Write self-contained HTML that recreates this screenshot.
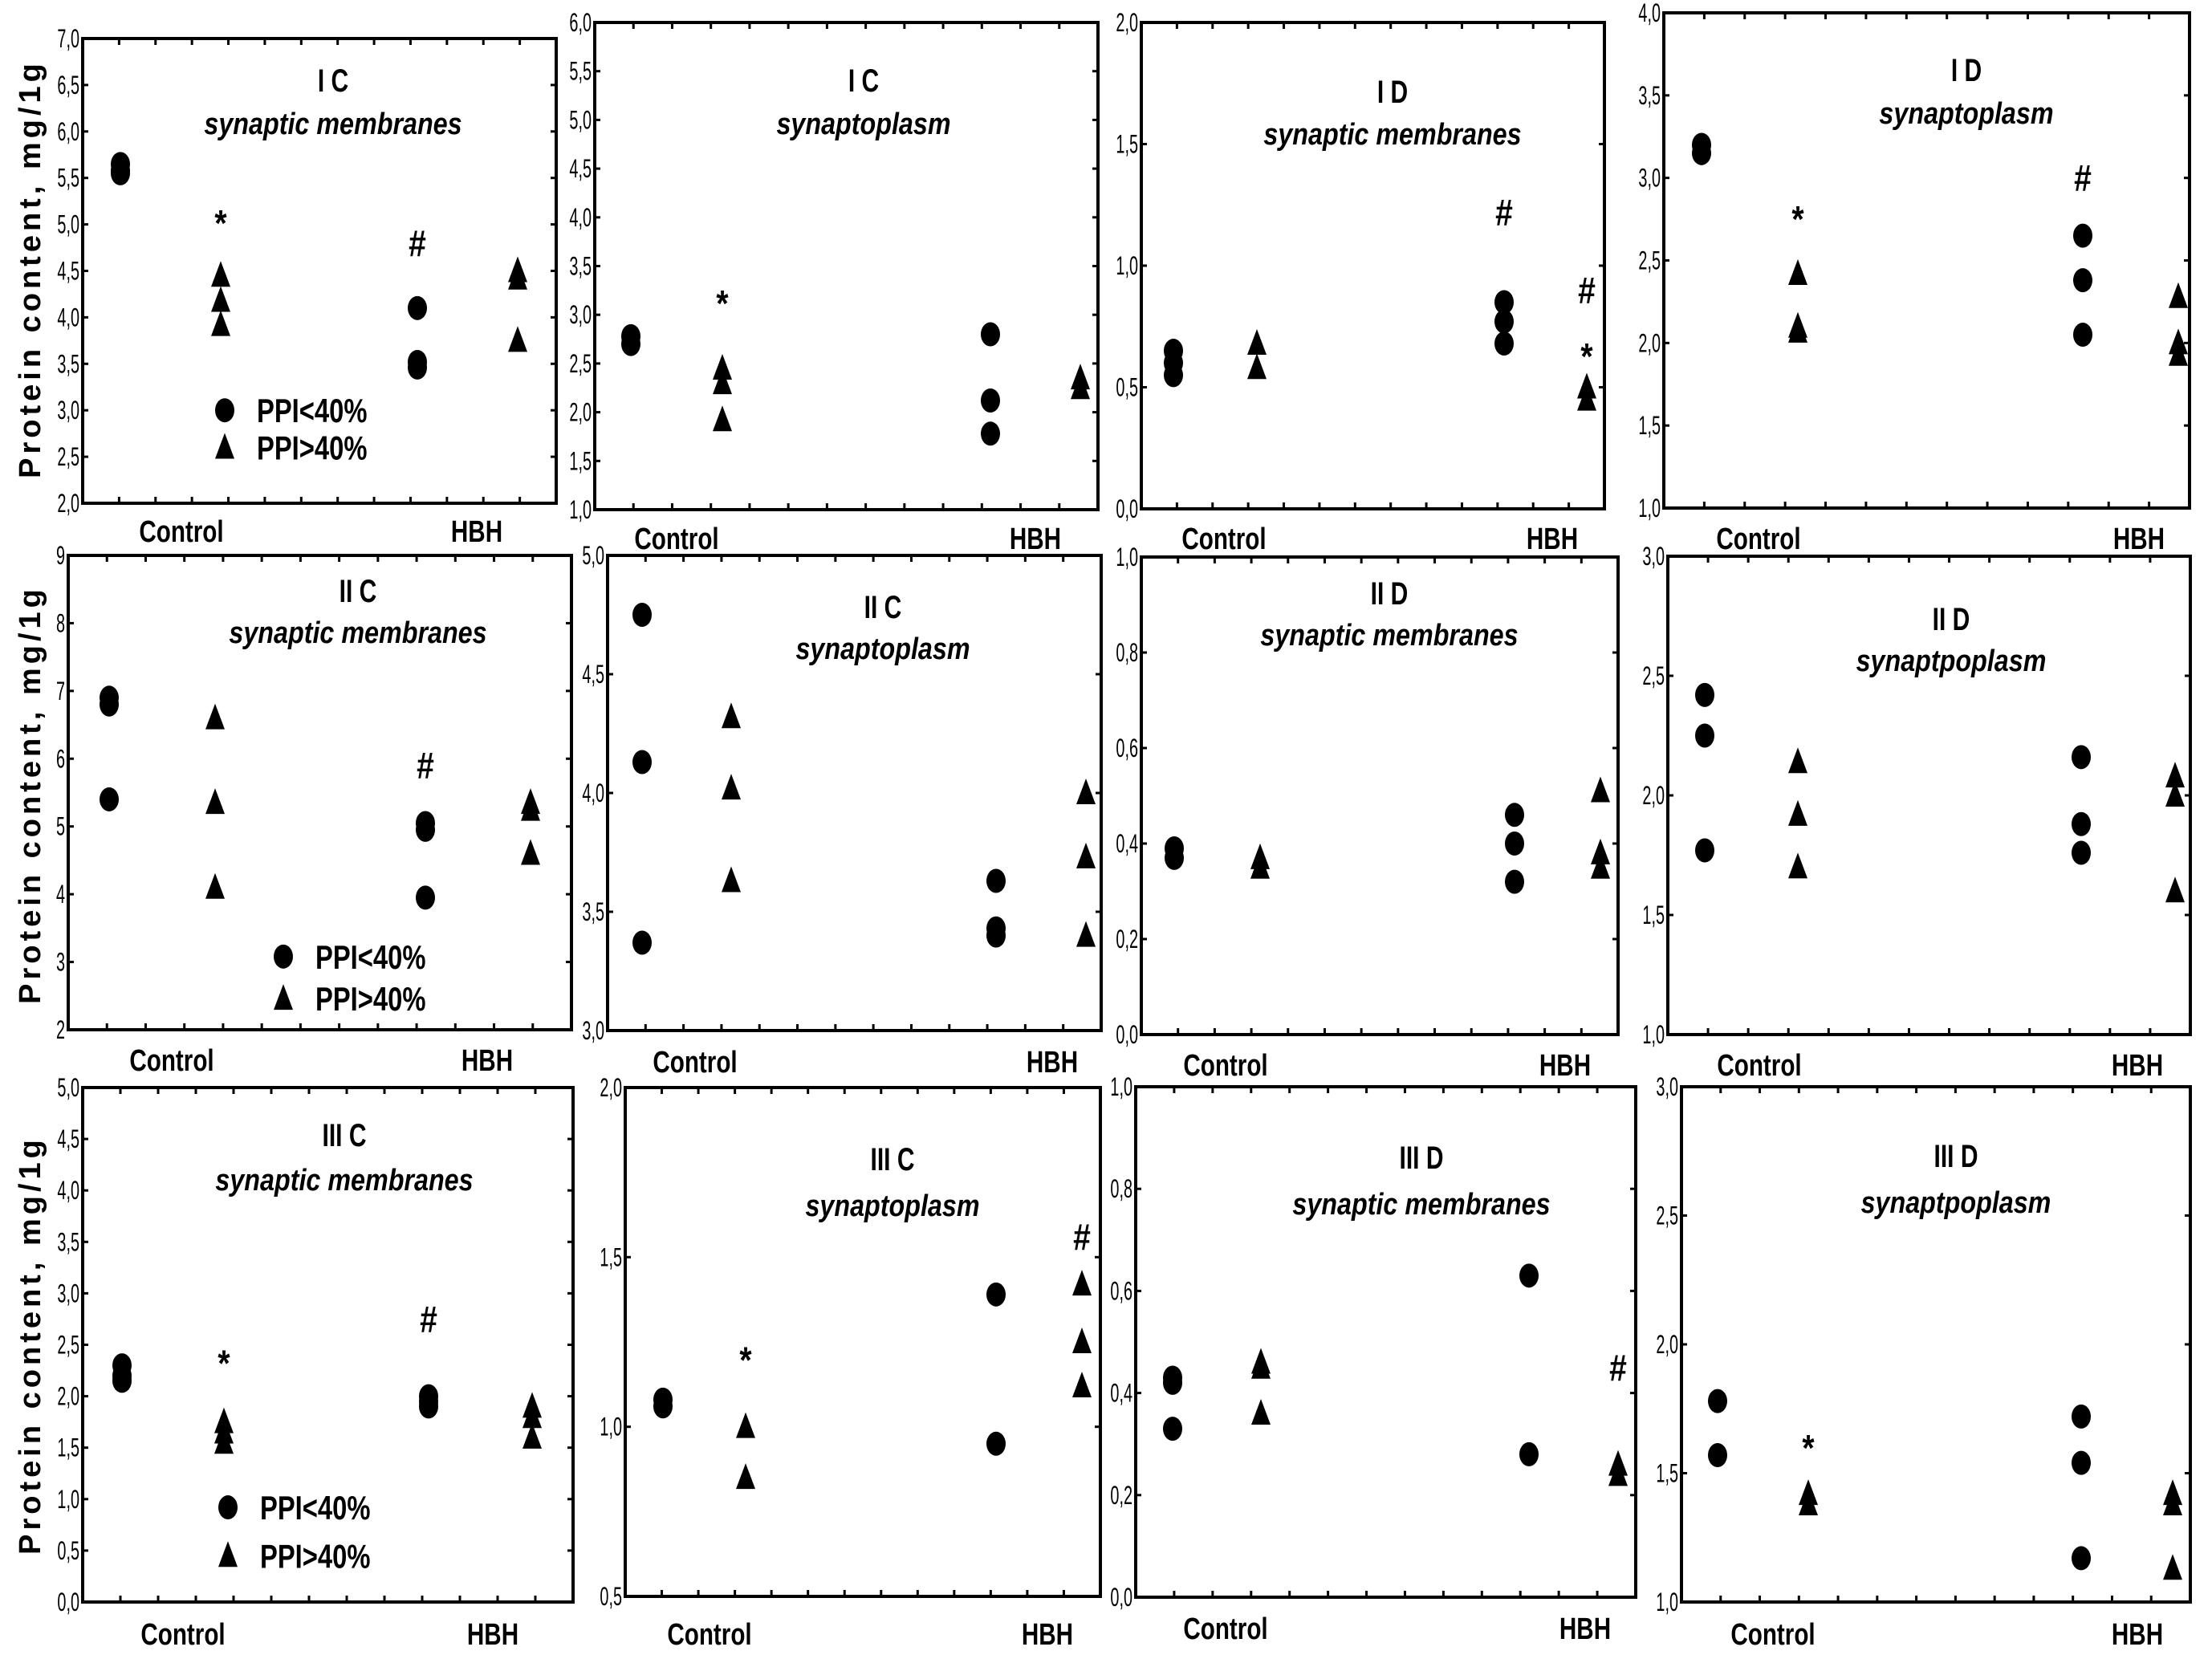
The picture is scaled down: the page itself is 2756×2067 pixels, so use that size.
<!DOCTYPE html>
<html><head><meta charset="utf-8">
<style>
html,body{margin:0;padding:0;background:#fff;}
svg{display:block;}
text{font-family:"Liberation Sans Narrow","Liberation Sans",sans-serif;fill:#000;}
</style></head>
<body>
<svg id="fig" width="2756" height="2067" viewBox="0 0 2756 2067" xmlns="http://www.w3.org/2000/svg"></svg>
<script>
// ---- data ----
const panelTitles = ["I C","I C","I D","I D","II C","II C","II D","II D","III C","III C","III D","III D"];
const panelSubtitles = ["synaptic membranes","synaptoplasm","synaptic membranes","synaptoplasm","synaptic membranes","synaptoplasm","synaptic membranes","synaptpoplasm","synaptic membranes","synaptoplasm","synaptic membranes","synaptpoplasm"];
const yMins = [2,1,0,1,2,3,0,1,0,0.5,0,1];
const yMaxs = [7,6,2,4,9,5,1,3,5,2,1,3];
const ySteps = [0.5,0.5,0.5,0.5,1,0.5,0.2,0.5,0.5,0.5,0.2,0.5];
const yDecimals = [1,1,1,1,0,1,1,1,1,1,1,1];
const categories = ["Control","HBH"];
const ctrlLow = [[5.65,5.58,5.55],[2.78,2.7],[0.65,0.6,0.55],[3.2,3.15],[6.9,6.8,5.4],[4.75,4.13,3.37],[0.39,0.37],[2.42,2.25,1.77],[2.3,2.2,2.15],[1.08,1.06],[0.43,0.42,0.33],[1.78,1.57]];
const ctrlHigh = [[4.45,4.18,3.92],[2.45,2.3,1.92],[0.68,0.58],[2.42,2.1,2.07],[6.6,5.35,4.1],[4.32,4.02,3.63],[0.37,0.35],[2.14,1.92,1.7],[1.75,1.65,1.55],[1.0,0.85],[0.46,0.45,0.36],[1.42,1.38]];
const hbhLow = [[4.1,3.52,3.46],[2.8,2.12,1.78],[0.85,0.77,0.68],[2.65,2.38,2.05],[5.05,4.95,3.95],[3.63,3.43,3.4],[0.46,0.40,0.32],[2.16,1.88,1.76],[2.0,1.95,1.9],[1.39,0.95],[0.63,0.28],[1.72,1.54,1.17]];
const hbhHigh = [[4.5,4.42,3.75],[2.35,2.25],[0.5,0.45],[2.28,2.0,1.93],[5.35,5.25,4.6],[4.0,3.73,3.4],[0.51,0.38,0.35],[2.08,2.0,1.6],[1.9,1.8,1.6],[1.42,1.25,1.12],[0.26,0.24],[1.42,1.38,1.13]];
// annotations: [panel, group(0..3), symbol, value]
const annotations = [[0,1,"*",5.1],[0,2,"#",4.8],[1,1,"*",3.2],[2,2,"#",1.22],[2,3,"#",0.9],[2,3,"*",0.66],[3,1,"*",2.8],[3,2,"#",3.0],[4,2,"#",5.9],[8,1,"*",2.4],[8,2,"#",2.75],[9,1,"*",1.22],[9,3,"#",1.56],[10,3,"#",0.45],[11,1,"*",1.63]];
const legendNames = ["PPI<40%","PPI>40%"];
const legendValues = [[0,3.0,2.6],[4,3.08,2.46],[8,0.92,0.45]];

// ---- layout (pixels) ----
const boxes = [[103,48,693,627],[741,28,1368,635],[1422,28,1999,634],[2073,16,2728,633],
 [85,692,712,1283],[757,692,1372,1284],[1422,694,2016,1289],[2078,693,2729,1289],
 [103,1355,714,1996],[779,1355,1371,1989],[1415,1354,2038,1990],[2095,1354,2729,1996]];
const groupX = [[150,275,520,645],[786,900,1234,1346],[1462,1566,1874,1977],[2120,2240,2595,2714],
 [136,268,530,661],[800,911,1241,1353],[1463,1570,1887,1994],[2124,2240,2593,2710],
 [152,279,534,663],[826,929,1241,1348],[1461,1571,1905,2016],[2140,2253,2593,2707]];
const titlePos = [[415,100,154],[1076,100,154],[1735,114,167],[2450,87,141],
 [446,736,788],[1100,756,808],[1731,739,791],[2431,771,823],
 [429,1414,1470],[1112,1444,1502],[1771,1442,1500],[2437,1440,1498]];
const catLabelPos = [[226,594,661],[843,1290,670],[1525,1934,670],[2191,2665,670],
 [214,607,1320],[866,1311,1322],[1527,1950,1326],[2192,2663,1326],
 [228,614,2035],[884,1305,2035],[1527,1975,2028],[2209,2663,2035]];

const NS="http://www.w3.org/2000/svg";
const svg=document.getElementById('fig');
function mk(tag,attrs,parent){const e=document.createElementNS(NS,tag);for(const k in attrs)e.setAttribute(k,attrs[k]);(parent||svg).appendChild(e);return e;}
function sq(x,s){return `translate(${x} 0) scale(${s} 1) translate(${-x} 0)`;}

function yScale(p,v){const b=boxes[p];return b[3]-(v-yMins[p])/(yMaxs[p]-yMins[p])*(b[3]-b[1]);}
function fmt(p,v){return v.toFixed(yDecimals[p]).replace('.',',');}

function circle(g,x,y){
  const c=mk('ellipse',{cx:x,cy:y,rx:12,ry:15,fill:'#000'},g);
  
  
}
function tri(g,x,y){
  const t=mk('path',{d:`M${x} ${y-18} L${x+12} ${y+14} L${x-12} ${y+14} Z`,fill:'#000'},g);
  
  
}

for(let p=0;p<12;p++){
  const g=mk('g',{});
  
  
  const b=boxes[p];
  const r=mk('rect',{x:b[0],y:b[1],width:b[2]-b[0],height:b[3]-b[1],fill:'none',stroke:'#000','stroke-width':4},g);
  
  
  const nT=13;
  for(let i=1;i<nT;i++){
    const x=b[0]+(b[2]-b[0])*i/nT;
    mk('line',{x1:x,y1:b[1],x2:x,y2:b[1]+8,stroke:'#000','stroke-width':3},g);
    mk('line',{x1:x,y1:b[3],x2:x,y2:b[3]-8,stroke:'#000','stroke-width':3},g);
  }
  const n=Math.round((yMaxs[p]-yMins[p])/ySteps[p]);
  for(let i=0;i<=n;i++){
    const v=yMins[p]+i*ySteps[p];const y=yScale(p,v);
    mk('line',{x1:b[0],y1:y,x2:b[0]+7,y2:y,stroke:'#000','stroke-width':3},g);
    mk('line',{x1:b[2],y1:y,x2:b[2]-7,y2:y,stroke:'#000','stroke-width':3},g);
    const t=mk('text',{x:b[0]-4,y:y+11,'text-anchor':'end','font-size':32,transform:sq(b[0]-4,0.62)},g);
    t.textContent=fmt(p,v);
    
    
  }
  const tp=titlePos[p];
  const t1=mk('text',{x:tp[0],y:tp[1]+14,'text-anchor':'middle','font-size':40,'font-weight':'bold',transform:sq(tp[0],0.75)},g);
  t1.textContent=panelTitles[p];
  
  
  const t2=mk('text',{x:tp[0],y:tp[2]+13,'text-anchor':'middle','font-size':38,'font-weight':'bold','font-style':'italic',transform:sq(tp[0],0.85)},g);
  t2.textContent=panelSubtitles[p];
  
  
  const cp=catLabelPos[p];
  for(let c=0;c<2;c++){
    const t=mk('text',{x:cp[c],y:cp[2]+14,'text-anchor':'middle','font-size':38,'font-weight':'bold',transform:sq(cp[c],0.78)},g);
    t.textContent=categories[c];
    
    
  }
  const gx=groupX[p];
  ctrlLow[p].forEach(v=>circle(g,gx[0],yScale(p,v)));
  ctrlHigh[p].forEach(v=>tri(g,gx[1],yScale(p,v)));
  hbhLow[p].forEach(v=>circle(g,gx[2],yScale(p,v)));
  hbhHigh[p].forEach(v=>tri(g,gx[3],yScale(p,v)));
}
annotations.forEach(a=>{
  const p=a[0];
  const x=groupX[p][a[1]];
  const t=mk('text',{x:x,y:yScale(p,a[3])+(a[2]==='*'?26:16),'text-anchor':'middle','font-size':46,'font-weight':'bold',transform:sq(x,0.85)});
  t.textContent=a[2];
  
  
});
legendValues.forEach(l=>{
  const p=l[0];const lx=groupX[p][1]+(p===4?85:5);
  const g=mk('g',{});
  
  
  circle(g,lx,yScale(p,l[1]));
  tri(g,lx,yScale(p,l[2]));
  for(let i=0;i<2;i++){
    const tx=lx+40;
    const t=mk('text',{x:tx,y:yScale(p,l[1+i])+15,'font-size':42,'font-weight':'bold',transform:sq(tx,0.78)},g);
    t.textContent=legendNames[i];
    
    
  }
});
[335,990,1676].forEach(cy=>{
  const t=mk('text',{x:0,y:0,'text-anchor':'middle','font-size':38,'font-weight':'bold','letter-spacing':5,transform:`translate(50 ${cy}) rotate(-90)`});
  t.style.fontFamily='"Liberation Sans",sans-serif';
  t.textContent='Protein content, mg/1g';
  
  
});
</script>
</body></html>
